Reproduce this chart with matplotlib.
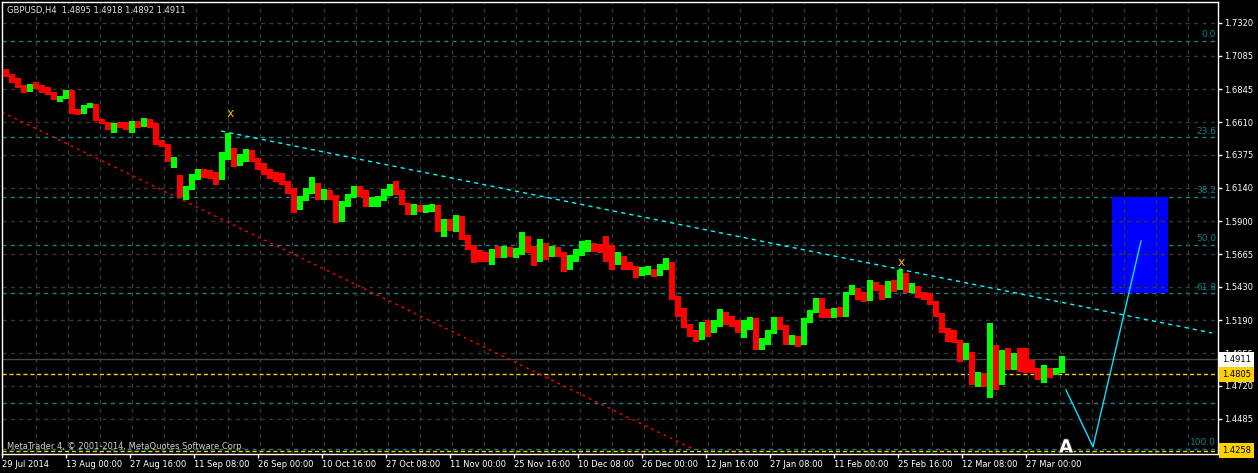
import numpy as np
import matplotlib.pyplot as plt
import matplotlib.patheffects as pe
from matplotlib.patches import Rectangle
import matplotlib.transforms as mtransforms

# GBPUSD, drawn as one bar per trading day (6 H4 bars wide)
first_open = 1.6983
highs = [1.6990, 1.6954, 1.6926, 1.6875, 1.6883, 1.6897, 1.6875, 1.6861, 1.6825, 1.6797,
         1.6840, 1.6840, 1.6704, 1.6732, 1.6747, 1.6739, 1.6632, 1.6610, 1.6603, 1.6610,
         1.6610, 1.6618, 1.6618, 1.6639, 1.6632, 1.6603, 1.6482, 1.6453, 1.6360, 1.6231,
         1.6152, 1.6238, 1.6274, 1.6274, 1.6267, 1.6252, 1.6396, 1.6532, 1.6424, 1.6381,
         1.6417, 1.6410, 1.6353, 1.6317, 1.6274, 1.6252, 1.6245, 1.6188, 1.6138, 1.6081,
         1.6138, 1.6217, 1.6174, 1.6131, 1.6124, 1.6088, 1.6045, 1.6095, 1.6152, 1.6152,
         1.6124, 1.6073, 1.6081, 1.6131, 1.6167, 1.6188, 1.6124, 1.6031, 1.6023, 1.6016,
         1.6016, 1.6023, 1.6016, 1.5916, 1.5916, 1.5945, 1.5937, 1.5801, 1.5730, 1.5694,
         1.5680, 1.5701, 1.5723, 1.5723, 1.5716, 1.5708, 1.5823, 1.5794, 1.5723, 1.5773,
         1.5744, 1.5723, 1.5716, 1.5680, 1.5658, 1.5701, 1.5758, 1.5766, 1.5744, 1.5737,
         1.5794, 1.5730, 1.5680, 1.5651, 1.5608, 1.5579, 1.5572, 1.5579, 1.5558, 1.5594,
         1.5637, 1.5608, 1.5365, 1.5279, 1.5164, 1.5121, 1.5178, 1.5193, 1.5193, 1.5272,
         1.5250, 1.5221, 1.5193, 1.5193, 1.5214, 1.5207, 1.5064, 1.5121, 1.5214, 1.5214,
         1.5157, 1.5085, 1.5078, 1.5207, 1.5264, 1.5350, 1.5350, 1.5272, 1.5279, 1.5286,
         1.5393, 1.5443, 1.5422, 1.5393, 1.5479, 1.5465, 1.5443, 1.5472, 1.5479, 1.5551,
         1.5529, 1.5458, 1.5436, 1.5393, 1.5386, 1.5329, 1.5243, 1.5136, 1.5121, 1.5050,
         1.5028, 1.4964, 1.4821, 1.4813, 1.5171, 1.5014, 1.4978, 1.4992, 1.4957, 1.4992,
         1.4992, 1.4906, 1.4849, 1.4871, 1.4849, 1.4849, 1.4935]
lows = [1.6933, 1.6890, 1.6854, 1.6818, 1.6825, 1.6847, 1.6818, 1.6804, 1.6768, 1.6754,
        1.6775, 1.6668, 1.6661, 1.6668, 1.6711, 1.6618, 1.6596, 1.6553, 1.6532, 1.6568,
        1.6553, 1.6532, 1.6568, 1.6575, 1.6568, 1.6446, 1.6431, 1.6324, 1.6281, 1.6073,
        1.6052, 1.6124, 1.6195, 1.6209, 1.6202, 1.6159, 1.6195, 1.6338, 1.6288, 1.6295,
        1.6324, 1.6324, 1.6267, 1.6231, 1.6202, 1.6181, 1.6159, 1.6095, 1.5959, 1.5980,
        1.6045, 1.6095, 1.6052, 1.6052, 1.6052, 1.5887, 1.5895, 1.6002, 1.6066, 1.6073,
        1.6002, 1.6002, 1.6002, 1.6045, 1.6081, 1.6088, 1.6016, 1.5945, 1.5945, 1.5966,
        1.5959, 1.5966, 1.5823, 1.5787, 1.5830, 1.5823, 1.5766, 1.5694, 1.5601, 1.5608,
        1.5608, 1.5587, 1.5637, 1.5637, 1.5644, 1.5637, 1.5658, 1.5673, 1.5579, 1.5608,
        1.5622, 1.5644, 1.5644, 1.5536, 1.5551, 1.5608, 1.5651, 1.5680, 1.5680, 1.5673,
        1.5608, 1.5551, 1.5587, 1.5551, 1.5551, 1.5494, 1.5508, 1.5515, 1.5501, 1.5508,
        1.5551, 1.5336, 1.5214, 1.5136, 1.5071, 1.5035, 1.5050, 1.5071, 1.5100, 1.5143,
        1.5157, 1.5143, 1.5100, 1.5064, 1.5121, 1.4978, 1.4978, 1.5014, 1.5093, 1.5121,
        1.5014, 1.5014, 1.4999, 1.5014, 1.5171, 1.5243, 1.5207, 1.5207, 1.5207, 1.5214,
        1.5214, 1.5372, 1.5336, 1.5322, 1.5329, 1.5400, 1.5336, 1.5350, 1.5393, 1.5408,
        1.5386, 1.5386, 1.5350, 1.5336, 1.5300, 1.5214, 1.5100, 1.5035, 1.5028, 1.4892,
        1.4906, 1.4727, 1.4713, 1.4713, 1.4634, 1.4692, 1.4727, 1.4835, 1.4835, 1.4821,
        1.4813, 1.4813, 1.4763, 1.4742, 1.4778, 1.4799, 1.4813]
closes = [1.6947, 1.6926, 1.6868, 1.6840, 1.6875, 1.6868, 1.6847, 1.6818, 1.6782, 1.6789,
          1.6818, 1.6682, 1.6675, 1.6725, 1.6732, 1.6625, 1.6610, 1.6582, 1.6589, 1.6582,
          1.6575, 1.6596, 1.6589, 1.6618, 1.6589, 1.6467, 1.6453, 1.6338, 1.6346, 1.6109,
          1.6124, 1.6217, 1.6252, 1.6238, 1.6231, 1.6195, 1.6353, 1.6374, 1.6338, 1.6353,
          1.6396, 1.6353, 1.6295, 1.6267, 1.6238, 1.6224, 1.6195, 1.6124, 1.5980, 1.6059,
          1.6109, 1.6181, 1.6081, 1.6095, 1.6073, 1.5923, 1.6009, 1.6066, 1.6124, 1.6109,
          1.6031, 1.6045, 1.6052, 1.6102, 1.6138, 1.6124, 1.6031, 1.5973, 1.5995, 1.5988,
          1.6002, 1.6016, 1.5851, 1.5895, 1.5851, 1.5923, 1.5780, 1.5708, 1.5658, 1.5651,
          1.5637, 1.5687, 1.5673, 1.5694, 1.5665, 1.5680, 1.5787, 1.5708, 1.5608, 1.5744,
          1.5658, 1.5694, 1.5673, 1.5565, 1.5637, 1.5680, 1.5723, 1.5730, 1.5708, 1.5701,
          1.5658, 1.5608, 1.5644, 1.5587, 1.5565, 1.5515, 1.5544, 1.5551, 1.5515, 1.5579,
          1.5601, 1.5365, 1.5264, 1.5157, 1.5093, 1.5071, 1.5150, 1.5136, 1.5157, 1.5236,
          1.5207, 1.5178, 1.5121, 1.5150, 1.5193, 1.5014, 1.5035, 1.5100, 1.5207, 1.5150,
          1.5050, 1.5064, 1.5035, 1.5178, 1.5250, 1.5315, 1.5250, 1.5236, 1.5250, 1.5229,
          1.5379, 1.5415, 1.5365, 1.5336, 1.5443, 1.5436, 1.5379, 1.5451, 1.5422, 1.5522,
          1.5408, 1.5422, 1.5372, 1.5358, 1.5322, 1.5236, 1.5121, 1.5107, 1.5050, 1.4921,
          1.4964, 1.4749, 1.4806, 1.4727, 1.4964, 1.4763, 1.4964, 1.4871, 1.4906, 1.4892,
          1.4849, 1.4835, 1.4792, 1.4821, 1.4813, 1.4821, 1.4911]

# time axis (H4 bar index) and labels
date_labels = ["29 Jul 2014", "13 Aug 00:00", "27 Aug 16:00", "11 Sep 08:00", "26 Sep 00:00",
               "10 Oct 16:00", "27 Oct 08:00", "11 Nov 00:00", "25 Nov 16:00", "10 Dec 08:00",
               "26 Dec 00:00", "12 Jan 16:00", "27 Jan 08:00", "11 Feb 00:00", "25 Feb 16:00",
               "12 Mar 08:00", "27 Mar 00:00"]
price_ticks = [1.7320, 1.7085, 1.6845, 1.6610, 1.6375, 1.6140, 1.5900, 1.5665, 1.5430,
               1.5190, 1.4955, 1.4720, 1.4485]

# objects on the chart
fib_high = 1.7190
fib_low = 1.4268
fib_levels = [0.0, 23.6, 38.2, 50.0, 61.8, 88.6, 100.0]
fib_texts = ["0.0", "23.6", "38.2", "50.0", "61.8", "", "100.0"]
hline_prices = [1.4805, 1.4258]
bid_price = 1.4911
red_trend_x = [-1, 690]
red_trend_p = [1.6682, 1.4269]
cyan_trend_x = [218, 1209]
cyan_trend_p = [1.6546, 1.5100]
proj_x = [1063, 1090, 1138]
proj_p = [1.4692, 1.4284, 1.5758]
rect_x = [1109, 1165]
mark_x = [227, 898]
mark_p = [1.6668, 1.5608]

fib_color = '#0b8585'
grid_color = '#353535'

fig = plt.figure(figsize=(12.58, 4.73), dpi=100, facecolor='black')
ax = fig.add_axes([2 / 1258, 19 / 473, 1216 / 1258, 452 / 473])
ax.set_facecolor('black')
ax.set_xlim(-1, 1215)
ax.set_ylim(1.4233, 1.7470)

# grid
for p in price_ticks:
    ax.axhline(p, color=grid_color, lw=1, ls=(0, (3, 3)), zorder=1)
for gx in range(33, 1190, 32):
    ax.axvline(gx, color=grid_color, lw=1, ls=(0, (3, 3)), zorder=1)

# fibo levels and box
fib_prices = [fib_high - lv / 100 * (fib_high - fib_low) for lv in fib_levels]
yt = mtransforms.blended_transform_factory(ax.transAxes, ax.transData)
for fp, ft in zip(fib_prices, fib_texts):
    ax.axhline(fp, color=fib_color, lw=1, ls=(0, (3, 3)), zorder=0.5)
    if ft:
        ax.text(0.9985, fp + 0.0012, ft, transform=yt,
                ha='right', va='bottom', color=fib_color, fontsize=6.5)
ax.add_patch(Rectangle((rect_x[0], fib_prices[4]), rect_x[1] - rect_x[0], fib_prices[2] - fib_prices[4],
                       facecolor='#0000ff', edgecolor='none', zorder=0.8))

# price lines
ax.axhline(bid_price, color='#454545', lw=1, zorder=1.5)
for hp in hline_prices:
    ax.axhline(hp, color='#ffd000', lw=1, ls=(0, (3, 2)), zorder=2)

# bars
o = np.array([first_open] + closes[:-1])
c = np.array(closes)
h = np.array(highs)
l = np.array(lows)
xs = np.arange(len(c)) * 6
cols = np.where(c >= o, '#00ff00', '#ff0000')
ax.bar(xs, h - l, bottom=l, width=6, align='edge', color=cols, linewidth=0, zorder=3)

# trend lines and drawings
ax.plot(red_trend_x, red_trend_p, color='#ff0000', lw=1, ls=(0, (2, 3)), zorder=2.5)
ax.plot(cyan_trend_x, cyan_trend_p, color='#00ffff', lw=1, ls=(0, (3, 3)), zorder=2.5)
ax.plot(proj_x, proj_p, color='#00e5ff', lw=1, zorder=4)
for mx, mp in zip(mark_x, mark_p):
    ax.text(mx, mp, 'x', color='#e8b400', fontsize=9, ha='center', va='center', zorder=5)
ax.text(1063, 1.4280, 'A', color='white', fontsize=13, fontweight='bold', ha='center', va='center',
        zorder=5, path_effects=[pe.withStroke(linewidth=1.5, foreground='#202020')])

# axes styling
for s in ax.spines.values():
    s.set_color('white')
    s.set_linewidth(1)
ax.yaxis.tick_right()
ax.set_yticks(price_ticks, labels=[f"{p:.4f}" for p in price_ticks])
ax.set_xticks([64 * k - 1 for k in range(len(date_labels))], labels=date_labels)
for lbl in ax.get_xticklabels():
    lbl.set_horizontalalignment('left')
ax.tick_params(axis='both', colors='white', length=3, width=1, labelsize=6, pad=1.5)

# price boxes on the right scale
ax.text(1.0035, bid_price, f"{bid_price:.4f}", transform=yt, ha='left', va='center', fontsize=6,
        color='black', clip_on=False, zorder=6,
        bbox=dict(boxstyle='square,pad=0.35', facecolor='white', edgecolor='none'))
for hp in hline_prices:
    ax.text(1.0035, hp, f"{hp:.4f}", transform=yt, ha='left', va='center', fontsize=6,
            color='black', clip_on=False, zorder=6,
            bbox=dict(boxstyle='square,pad=0.35', facecolor='#ffd000', edgecolor='none'))

fig.text(7 / 1258, 1 - 10 / 473, "GBPUSD,H4  1.4895 1.4918 1.4892 1.4911", color='#e0e0e0',
         fontsize=6, va='center', ha='left')
fig.text(7 / 1258, 1 - 446 / 473, "MetaTrader 4, \u00a9 2001-2014, MetaQuotes Software Corp.",
         color='#d0d0c0', fontsize=6, va='center', ha='left')

fig.savefig('out.png', dpi=100, facecolor='black')
